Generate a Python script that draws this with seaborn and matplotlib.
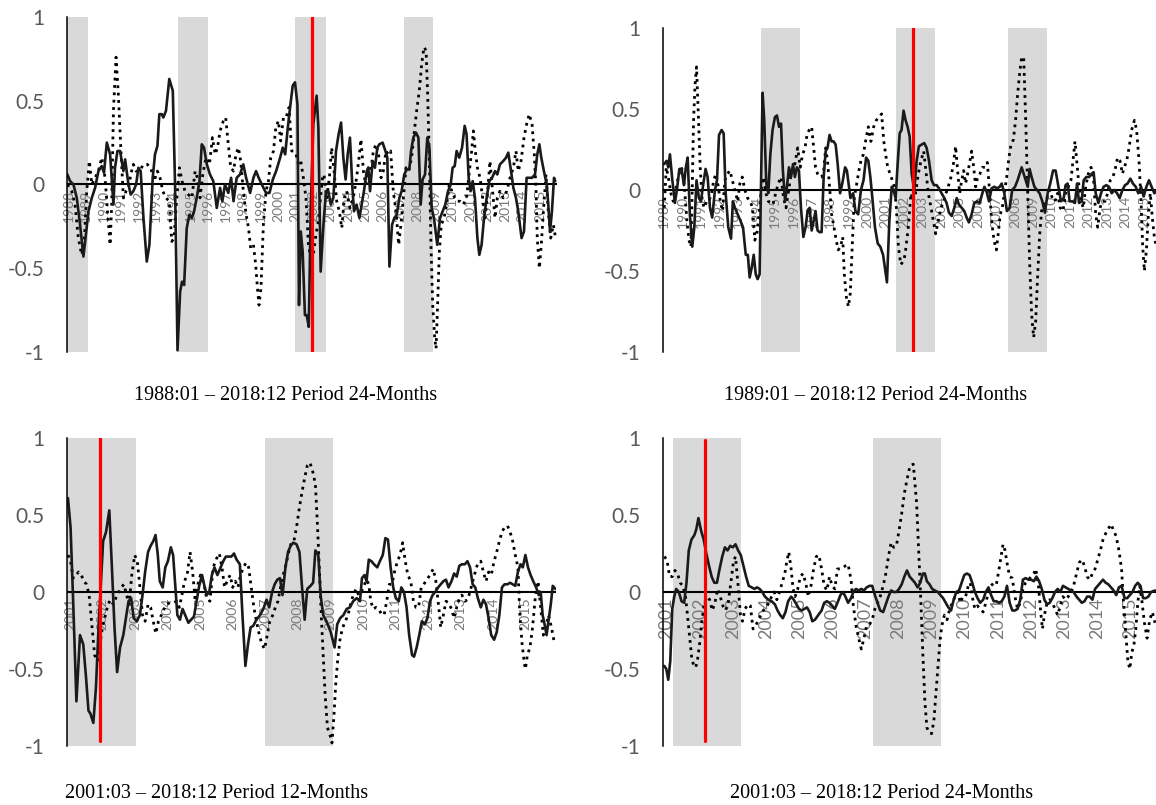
import numpy as np
import pandas as pd
import matplotlib
matplotlib.use("Agg")
import matplotlib.pyplot as plt
import seaborn as sns

sns.set_style("white")
plt.rcParams["font.family"] = ["Lato", "DejaVu Sans"]

# ---------------- data ----------------
titles = ["1988:01 \u2013 2018:12 Period 24-Months",
          "1989:01 \u2013 2018:12 Period 24-Months",
          "2001:03 \u2013 2018:12 Period 12-Months",
          "2001:03 \u2013 2018:12 Period 24-Months"]

year_labels_1 = list(range(1988, 2016))
year_labels_2 = list(range(1989, 2016))
year_labels_3 = list(range(2001, 2016))
year_labels_4 = list(range(2001, 2016))

shades_1 = [(1987.91, 1989.10), (1994.29, 1996.01), (2000.97, 2002.75), (2007.23, 2008.86)]
shades_2 = [(1994.24, 1996.36), (2001.56, 2003.67), (2007.65, 2009.74)]
shades_3 = [(2000.92, 2003.03), (2006.99, 2009.07)]
shades_4 = [(2001.20, 2003.24), (2007.24, 2009.28)]

red_lines = [2001.93, 2002.48, 2001.92, 2002.16]

p1_solid = [(1987.93,0.06),(1988.09,0.02),(1988.28,0.0),(1988.47,-0.08),(1988.66,-0.24),(1988.85,-0.43),(1988.95,-0.34),(1989.14,-0.16),(1989.33,-0.08),(1989.52,-0.02),(1989.71,0.08),(1989.90,0.11),(1990.03,0.07),(1990.19,0.25),(1990.38,0.18),(1990.57,-0.12),(1990.66,0.10),(1990.80,0.20),(1990.95,0.20),(1991.14,0.08),(1991.24,0.15),(1991.43,0.0),(1991.56,-0.06),(1991.71,-0.04),(1991.87,0.0),(1992.00,0.10),(1992.13,0.08),(1992.29,-0.20),(1992.48,-0.46),(1992.63,-0.36),(1992.82,0.04),(1992.95,0.18),(1993.09,0.23),(1993.20,0.42),(1993.34,0.42),(1993.43,0.40),(1993.58,0.44),(1993.77,0.63),(1993.97,0.56),(1994.10,0.0),(1994.24,-0.99),(1994.39,-0.64),(1994.50,-0.58),(1994.62,-0.60),(1994.77,-0.26),(1994.92,-0.18),(1995.06,-0.20),(1995.19,-0.16),(1995.34,-0.08),(1995.50,0.02),(1995.63,0.24),(1995.76,0.22),(1995.92,0.12),(1996.10,0.06),(1996.29,0.02),(1996.49,-0.14),(1996.68,-0.02),(1996.81,-0.10),(1996.96,0.0),(1997.15,-0.05),(1997.31,0.04),(1997.45,-0.10),(1997.63,0.04),(1997.82,0.06),(1998.01,0.12),(1998.17,0.04),(1998.40,-0.05),(1998.59,0.04),(1998.74,0.08),(1998.89,0.04),(1999.07,0.0),(1999.31,-0.05),(1999.51,-0.05),(1999.70,0.03),(1999.89,0.08),(2000.12,0.16),(2000.27,0.22),(2000.41,0.18),(2000.54,0.32),(2000.69,0.46),(2000.84,0.59),(2000.97,0.61),(2001.11,0.48),(2001.20,-0.72),(2001.30,-0.28),(2001.41,-0.40),(2001.54,-0.78),(2001.64,-0.78),(2001.76,-0.85),(2001.87,-0.16),(2002.02,0.36),(2002.21,0.53),(2002.31,0.34),(2002.44,-0.52),(2002.60,-0.24),(2002.75,-0.04),(2002.88,-0.04),(2003.02,-0.12),(2003.17,-0.08),(2003.32,0.20),(2003.47,0.30),(2003.61,0.37),(2003.74,0.16),(2003.87,0.03),(2003.99,0.18),(2004.12,0.28),(2004.26,-0.02),(2004.35,-0.16),(2004.50,-0.12),(2004.66,-0.20),(2004.79,-0.12),(2004.92,-0.04),(2005.08,0.08),(2005.17,0.10),(2005.27,-0.04),(2005.42,0.14),(2005.55,0.10),(2005.69,0.22),(2005.80,0.24),(2005.99,0.25),(2006.15,0.20),(2006.26,0.16),(2006.38,-0.49),(2006.53,-0.24),(2006.66,-0.20),(2006.80,-0.18),(2006.95,-0.08),(2007.08,-0.04),(2007.23,0.06),(2007.37,0.09),(2007.52,0.09),(2007.62,0.20),(2007.75,0.28),(2007.90,0.31),(2008.04,0.28),(2008.17,-0.12),(2008.28,0.03),(2008.42,0.06),(2008.55,0.28),(2008.67,0.22),(2008.80,-0.14),(2008.93,-0.20),(2009.12,-0.36),(2009.28,-0.20),(2009.43,-0.16),(2009.58,-0.12),(2009.74,-0.04),(2009.89,0.0),(2010.00,0.10),(2010.12,0.11),(2010.23,0.20),(2010.38,0.16),(2010.54,0.22),(2010.69,0.35),(2010.80,0.30),(2010.92,0.04),(2011.03,-0.04),(2011.15,0.02),(2011.28,-0.08),(2011.42,-0.32),(2011.53,-0.42),(2011.66,-0.36),(2011.80,-0.20),(2011.95,-0.08),(2012.10,0.02),(2012.26,0.04),(2012.43,0.08),(2012.56,0.06),(2012.71,0.12),(2012.90,0.14),(2013.06,0.16),(2013.19,0.19),(2013.32,0.10),(2013.48,-0.02),(2013.63,-0.08),(2013.76,-0.16),(2013.95,-0.32),(2014.09,-0.28),(2014.24,0.04),(2014.39,0.04),(2014.55,0.04),(2014.72,0.06),(2014.85,0.18),(2014.97,0.24),(2015.08,0.16),(2015.23,0.08),(2015.39,0.0),(2015.48,-0.12),(2015.58,-0.28),(2015.69,-0.16),(2015.81,0.04),(2015.88,0.02)]

p1_dotted = [(1987.93,0.0),(1988.18,-0.04),(1988.37,-0.12),(1988.56,-0.32),(1988.75,-0.42),(1988.89,-0.36),(1989.04,-0.04),(1989.19,0.14),(1989.33,0.0),(1989.52,0.04),(1989.71,0.08),(1989.90,0.16),(1990.09,0.04),(1990.23,-0.16),(1990.38,-0.36),(1990.47,-0.12),(1990.57,0.44),(1990.72,0.76),(1990.85,0.54),(1990.99,0.22),(1991.14,-0.08),(1991.29,-0.04),(1991.43,-0.02),(1991.56,0.06),(1991.71,0.12),(1991.87,0.08),(1992.06,0.08),(1992.29,0.12),(1992.51,0.12),(1992.71,0.10),(1992.90,0.02),(1993.09,0.08),(1993.24,0.04),(1993.40,-0.04),(1993.58,-0.08),(1993.77,-0.10),(1993.91,-0.34),(1994.04,-0.32),(1994.20,-0.08),(1994.35,0.10),(1994.50,0.02),(1994.67,-0.04),(1994.86,-0.06),(1995.06,-0.08),(1995.25,0.08),(1995.38,0.04),(1995.53,-0.08),(1995.69,0.06),(1995.87,0.16),(1996.07,0.12),(1996.24,0.28),(1996.40,0.18),(1996.53,0.22),(1996.68,0.32),(1996.87,0.38),(1997.00,0.40),(1997.15,0.24),(1997.29,0.10),(1997.45,0.08),(1997.59,0.18),(1997.73,0.22),(1997.86,0.14),(1998.01,-0.04),(1998.17,-0.18),(1998.31,-0.26),(1998.43,-0.38),(1998.59,-0.36),(1998.72,-0.48),(1998.82,-0.62),(1998.91,-0.72),(1999.02,-0.62),(1999.16,-0.24),(1999.31,-0.04),(1999.45,0.02),(1999.58,0.16),(1999.74,0.20),(1999.87,0.34),(2000.02,0.38),(2000.15,0.26),(2000.31,0.40),(2000.46,0.40),(2000.63,0.46),(2000.78,0.20),(2000.88,0.20),(2001.03,0.18),(2001.17,0.12),(2001.30,0.14),(2001.45,0.04),(2001.60,-0.08),(2001.74,-0.36),(2001.87,-0.44),(2002.02,-0.42),(2002.17,-0.30),(2002.31,-0.22),(2002.45,-0.06),(2002.55,0.04),(2002.63,0.06),(2002.79,-0.08),(2002.94,0.04),(2003.07,0.22),(2003.21,0.08),(2003.36,-0.10),(2003.51,-0.16),(2003.65,-0.26),(2003.80,-0.08),(2003.93,-0.04),(2004.12,-0.14),(2004.31,-0.08),(2004.50,0.04),(2004.64,0.16),(2004.75,0.27),(2004.89,0.08),(2005.02,0.0),(2005.17,0.10),(2005.31,0.08),(2005.46,0.20),(2005.61,0.24),(2005.76,0.18),(2005.90,0.04),(2006.03,0.08),(2006.18,0.20),(2006.32,0.18),(2006.45,0.20),(2006.60,-0.04),(2006.76,-0.16),(2006.91,-0.36),(2007.04,-0.24),(2007.18,-0.08),(2007.33,0.10),(2007.48,0.08),(2007.65,0.16),(2007.81,0.32),(2007.94,0.44),(2008.09,0.56),(2008.23,0.72),(2008.36,0.82),(2008.48,0.80),(2008.57,0.54),(2008.67,0.14),(2008.76,-0.36),(2008.86,-0.72),(2008.97,-0.91),(2009.05,-0.98),(2009.14,-0.72),(2009.24,-0.40),(2009.35,-0.24),(2009.51,-0.20),(2009.66,-0.12),(2009.81,0.0),(2009.96,-0.04),(2010.12,-0.08),(2010.27,-0.10),(2010.42,-0.10),(2010.61,-0.12),(2010.80,-0.08),(2010.96,0.08),(2011.09,0.20),(2011.19,0.32),(2011.30,0.20),(2011.42,0.10),(2011.57,0.04),(2011.72,-0.08),(2011.86,-0.20),(2012.01,-0.04),(2012.14,0.14),(2012.29,-0.04),(2012.43,-0.20),(2012.56,-0.08),(2012.71,-0.04),(2012.90,-0.08),(2013.10,-0.04),(2013.29,0.04),(2013.48,0.10),(2013.63,0.20),(2013.76,0.08),(2013.92,0.14),(2014.09,0.28),(2014.24,0.36),(2014.39,0.42),(2014.55,0.36),(2014.68,0.18),(2014.78,-0.04),(2014.85,-0.32),(2014.97,-0.50),(2015.08,-0.36),(2015.20,-0.16),(2015.35,0.06),(2015.48,-0.16),(2015.62,-0.32),(2015.77,-0.24),(2015.90,-0.32)]

p2_solid = [(1989.00,0.16),(1989.13,0.18),(1989.22,0.14),(1989.31,0.22),(1989.44,0.06),(1989.58,-0.08),(1989.71,0.02),(1989.82,0.13),(1989.94,0.13),(1990.07,0.03),(1990.16,0.13),(1990.27,0.20),(1990.39,-0.15),(1990.52,-0.35),(1990.63,-0.23),(1990.75,0.06),(1990.88,-0.05),(1990.99,-0.07),(1991.12,0.04),(1991.24,0.13),(1991.35,0.08),(1991.48,-0.11),(1991.60,-0.17),(1991.75,0.0),(1991.86,0.06),(1991.97,0.34),(1992.11,0.37),(1992.22,0.35),(1992.33,-0.02),(1992.47,-0.23),(1992.62,-0.30),(1992.72,-0.07),(1992.83,-0.11),(1992.98,-0.15),(1993.13,-0.19),(1993.27,-0.23),(1993.42,-0.40),(1993.53,-0.40),(1993.63,-0.54),(1993.74,-0.48),(1993.85,-0.40),(1993.96,-0.52),(1994.06,-0.55),(1994.17,-0.52),(1994.24,0.0),(1994.33,0.60),(1994.42,0.43),(1994.53,0.04),(1994.64,-0.02),(1994.75,0.22),(1994.87,0.37),(1995.00,0.45),(1995.11,0.46),(1995.22,0.39),(1995.33,0.41),(1995.43,0.12),(1995.55,-0.07),(1995.65,0.02),(1995.76,0.14),(1995.87,0.08),(1995.98,0.16),(1996.08,0.08),(1996.19,0.14),(1996.30,0.12),(1996.41,-0.11),(1996.54,-0.29),(1996.66,-0.23),(1996.77,-0.13),(1996.88,-0.11),(1996.99,-0.25),(1997.10,-0.19),(1997.20,-0.13),(1997.31,-0.25),(1997.42,-0.26),(1997.53,-0.26),(1997.64,0.08),(1997.75,0.24),(1997.85,0.26),(1997.96,0.34),(1998.07,0.30),(1998.18,0.30),(1998.29,0.28),(1998.40,0.16),(1998.53,-0.02),(1998.65,0.04),(1998.80,0.14),(1998.90,0.12),(1999.01,0.02),(1999.09,-0.05),(1999.24,-0.02),(1999.36,-0.13),(1999.51,-0.15),(1999.66,0.0),(1999.80,0.06),(1999.94,0.20),(2000.06,0.18),(2000.17,0.08),(2000.28,-0.05),(2000.42,-0.23),(2000.57,-0.33),(2000.71,-0.35),(2000.86,-0.40),(2000.96,-0.48),(2001.07,-0.57),(2001.20,-0.19),(2001.33,0.02),(2001.43,0.0),(2001.54,-0.05),(2001.65,0.16),(2001.76,0.35),(2001.86,0.37),(2001.97,0.49),(2002.08,0.43),(2002.19,0.39),(2002.30,0.33),(2002.41,0.10),(2002.55,0.0),(2002.68,0.18),(2002.80,0.27),(2002.95,0.28),(2003.09,0.29),(2003.22,0.26),(2003.35,0.18),(2003.49,0.06),(2003.62,0.03),(2003.76,0.03),(2003.89,0.01),(2004.03,-0.02),(2004.18,-0.05),(2004.30,-0.08),(2004.43,-0.14),(2004.58,-0.16),(2004.72,-0.11),(2004.85,-0.05),(2004.97,-0.09),(2005.12,-0.11),(2005.26,-0.13),(2005.39,-0.17),(2005.51,-0.20),(2005.66,-0.15),(2005.80,-0.08),(2005.95,-0.07),(2006.09,-0.08),(2006.24,-0.02),(2006.35,0.02),(2006.47,-0.01),(2006.60,-0.07),(2006.74,0.01),(2006.89,0.02),(2007.03,0.01),(2007.18,0.02),(2007.29,0.04),(2007.43,-0.02),(2007.57,-0.13),(2007.72,-0.11),(2007.86,0.0),(2008.01,0.02),(2008.15,0.06),(2008.26,0.10),(2008.37,0.14),(2008.48,0.10),(2008.59,0.06),(2008.70,0.02),(2008.80,0.13),(2008.91,0.08),(2009.06,0.02),(2009.20,0.0),(2009.34,-0.02),(2009.49,-0.07),(2009.63,-0.14),(2009.78,-0.02),(2009.92,0.04),(2010.07,0.12),(2010.21,0.12),(2010.36,0.02),(2010.50,-0.07),(2010.65,-0.05),(2010.75,0.03),(2010.86,0.04),(2010.97,-0.07),(2011.12,-0.07),(2011.26,-0.08),(2011.37,0.04),(2011.48,-0.08),(2011.62,-0.07),(2011.73,0.06),(2011.87,0.08),(2012.02,0.08),(2012.16,0.10),(2012.27,0.11),(2012.38,-0.02),(2012.53,-0.08),(2012.67,-0.02),(2012.81,0.02),(2012.96,0.03),(2013.10,0.02),(2013.25,-0.02),(2013.39,0.0),(2013.54,-0.02),(2013.68,-0.05),(2013.83,0.0),(2013.97,0.03),(2014.11,0.04),(2014.26,0.07),(2014.40,0.04),(2014.55,0.02),(2014.69,-0.02),(2014.84,0.02),(2014.98,-0.04),(2015.13,0.02),(2015.27,0.06),(2015.41,0.02),(2015.56,-0.02),(2015.65,-0.01)]

p2_dotted = [(1989.00,-0.11),(1989.11,0.14),(1989.22,0.08),(1989.36,-0.02),(1989.49,-0.07),(1989.62,0.0),(1989.76,0.08),(1989.91,0.14),(1990.01,0.12),(1990.12,-0.02),(1990.23,-0.19),(1990.34,-0.31),(1990.45,-0.35),(1990.52,0.02),(1990.59,0.43),(1990.67,0.65),(1990.75,0.76),(1990.84,0.49),(1990.95,0.14),(1991.06,-0.07),(1991.17,-0.11),(1991.30,-0.07),(1991.42,-0.07),(1991.57,-0.02),(1991.68,0.06),(1991.80,0.10),(1991.93,0.02),(1992.04,-0.07),(1992.16,-0.13),(1992.29,0.06),(1992.43,0.10),(1992.56,0.12),(1992.69,0.06),(1992.83,0.0),(1992.98,-0.07),(1993.10,0.04),(1993.23,0.08),(1993.37,0.0),(1993.52,-0.05),(1993.66,-0.07),(1993.79,-0.11),(1993.91,-0.31),(1994.02,-0.27),(1994.14,-0.15),(1994.24,-0.02),(1994.38,0.08),(1994.51,-0.02),(1994.64,-0.07),(1994.77,-0.08),(1994.89,-0.09),(1995.04,-0.02),(1995.18,0.04),(1995.33,0.08),(1995.47,-0.05),(1995.60,-0.11),(1995.72,-0.02),(1995.85,0.08),(1995.98,0.14),(1996.08,0.16),(1996.23,0.26),(1996.37,0.14),(1996.50,0.22),(1996.63,0.26),(1996.75,0.35),(1996.86,0.37),(1996.99,0.39),(1997.10,0.26),(1997.20,0.14),(1997.31,0.10),(1997.42,0.08),(1997.53,0.08),(1997.64,0.12),(1997.75,0.26),(1997.85,0.18),(1997.96,0.02),(1998.07,-0.15),(1998.20,-0.23),(1998.32,-0.31),(1998.43,-0.37),(1998.56,-0.35),(1998.67,-0.29),(1998.76,-0.52),(1998.87,-0.66),(1998.98,-0.72),(1999.08,-0.64),(1999.19,-0.35),(1999.30,-0.05),(1999.43,0.04),(1999.55,0.12),(1999.66,0.18),(1999.79,0.22),(1999.91,0.30),(2000.06,0.39),(2000.20,0.30),(2000.35,0.39),(2000.49,0.43),(2000.64,0.45),(2000.78,0.47),(2000.90,0.30),(2001.00,0.22),(2001.11,0.14),(2001.24,0.10),(2001.36,0.06),(2001.47,0.02),(2001.58,-0.11),(2001.69,-0.35),(2001.82,-0.46),(2001.96,-0.44),(2002.05,-0.40),(2002.23,-0.23),(2002.37,-0.02),(2002.50,-0.07),(2002.62,-0.02),(2002.77,0.10),(2002.91,0.18),(2003.06,0.24),(2003.18,0.12),(2003.31,-0.02),(2003.46,-0.11),(2003.58,-0.19),(2003.71,-0.27),(2003.85,-0.19),(2004.00,-0.11),(2004.14,-0.07),(2004.27,-0.02),(2004.39,0.02),(2004.54,0.08),(2004.67,0.16),(2004.79,0.27),(2004.90,0.12),(2005.01,-0.02),(2005.12,0.06),(2005.23,0.12),(2005.33,0.04),(2005.44,0.10),(2005.57,0.18),(2005.66,0.24),(2005.77,0.14),(2005.88,0.02),(2005.98,0.08),(2006.11,0.10),(2006.24,0.14),(2006.38,0.14),(2006.51,0.17),(2006.64,-0.02),(2006.74,-0.19),(2006.87,-0.31),(2007.00,-0.37),(2007.10,-0.27),(2007.21,-0.15),(2007.32,-0.11),(2007.43,-0.02),(2007.56,0.08),(2007.68,0.20),(2007.79,0.28),(2007.92,0.31),(2008.04,0.43),(2008.15,0.59),(2008.26,0.72),(2008.37,0.82),(2008.48,0.82),(2008.59,0.43),(2008.70,-0.02),(2008.80,-0.44),(2008.91,-0.77),(2009.02,-0.91),(2009.13,-0.81),(2009.24,-0.52),(2009.35,-0.27),(2009.45,-0.13),(2009.60,-0.07),(2009.74,-0.05),(2009.89,0.0),(2010.03,-0.05),(2010.18,-0.07),(2010.32,-0.02),(2010.46,-0.11),(2010.61,-0.13),(2010.75,-0.02),(2010.90,0.02),(2011.04,0.06),(2011.15,0.18),(2011.26,0.30),(2011.37,0.16),(2011.48,0.02),(2011.59,-0.07),(2011.71,-0.11),(2011.84,0.02),(2011.98,0.10),(2012.13,0.14),(2012.27,0.06),(2012.38,-0.15),(2012.49,-0.23),(2012.62,-0.11),(2012.74,-0.07),(2012.89,-0.07),(2013.03,-0.02),(2013.17,0.06),(2013.32,0.08),(2013.46,0.14),(2013.57,0.20),(2013.70,0.18),(2013.83,0.10),(2013.93,0.14),(2014.06,0.18),(2014.19,0.26),(2014.33,0.37),(2014.48,0.43),(2014.60,0.37),(2014.73,0.18),(2014.84,-0.07),(2014.93,-0.35),(2015.02,-0.50),(2015.13,-0.37),(2015.23,-0.17),(2015.34,-0.02),(2015.45,-0.17),(2015.56,-0.29),(2015.67,-0.35)]

p3_solid = [(2000.94,0.61),(2001.02,0.42),(2001.10,-0.06),(2001.20,-0.71),(2001.31,-0.28),(2001.41,-0.34),(2001.49,-0.54),(2001.57,-0.77),(2001.63,-0.79),(2001.72,-0.85),(2001.80,-0.62),(2001.88,-0.23),(2001.96,0.09),(2002.02,0.33),(2002.11,0.39),(2002.21,0.53),(2002.29,0.16),(2002.37,-0.23),(2002.45,-0.52),(2002.54,-0.36),(2002.64,-0.28),(2002.72,-0.17),(2002.80,-0.06),(2002.88,-0.04),(2002.96,-0.17),(2003.05,-0.19),(2003.15,-0.15),(2003.23,-0.02),(2003.31,0.13),(2003.40,0.26),(2003.48,0.30),(2003.56,0.33),(2003.63,0.37),(2003.70,0.24),(2003.76,0.07),(2003.85,0.03),(2003.93,0.16),(2004.01,0.20),(2004.10,0.29),(2004.17,0.24),(2004.24,0.03),(2004.30,-0.15),(2004.38,-0.18),(2004.46,-0.11),(2004.54,-0.15),(2004.64,-0.20),(2004.72,-0.18),(2004.81,-0.16),(2004.89,-0.06),(2004.97,0.04),(2005.06,0.11),(2005.12,0.05),(2005.20,-0.02),(2005.28,0.0),(2005.36,0.11),(2005.44,0.16),(2005.53,0.11),(2005.61,0.15),(2005.71,0.20),(2005.79,0.23),(2005.87,0.23),(2005.96,0.23),(2006.04,0.25),(2006.12,0.21),(2006.22,0.18),(2006.30,-0.15),(2006.39,-0.48),(2006.47,-0.34),(2006.55,-0.23),(2006.63,-0.22),(2006.73,-0.18),(2006.84,-0.15),(2006.94,-0.11),(2007.04,-0.05),(2007.12,-0.10),(2007.21,0.0),(2007.29,0.05),(2007.37,0.08),(2007.45,0.09),(2007.53,-0.02),(2007.62,0.16),(2007.70,0.26),(2007.78,0.30),(2007.86,0.32),(2007.96,0.31),(2008.05,0.26),(2008.13,0.03),(2008.21,-0.18),(2008.29,0.02),(2008.39,0.04),(2008.47,0.06),(2008.54,0.27),(2008.63,0.24),(2008.70,-0.02),(2008.78,-0.15),(2008.88,-0.19),(2009.01,-0.26),(2009.13,-0.36),(2009.21,-0.21),(2009.30,-0.17),(2009.40,-0.15),(2009.50,-0.11),(2009.60,-0.10),(2009.70,-0.06),(2009.81,-0.04),(2009.91,-0.06),(2009.97,0.09),(2010.05,0.11),(2010.11,0.07),(2010.18,0.21),(2010.26,0.20),(2010.34,0.18),(2010.44,0.16),(2010.52,0.20),(2010.61,0.24),(2010.69,0.35),(2010.77,0.34),(2010.85,0.16),(2010.93,0.03),(2011.01,-0.04),(2011.10,-0.06),(2011.18,0.03),(2011.26,0.0),(2011.34,-0.10),(2011.42,-0.28),(2011.51,-0.41),(2011.57,-0.42),(2011.65,-0.36),(2011.73,-0.28),(2011.81,-0.19),(2011.90,-0.21),(2011.98,-0.17),(2012.06,-0.06),(2012.14,-0.02),(2012.22,0.0),(2012.31,0.03),(2012.39,0.05),(2012.47,0.07),(2012.55,0.08),(2012.63,0.03),(2012.72,0.07),(2012.80,0.12),(2012.88,0.10),(2012.96,0.17),(2013.04,0.18),(2013.13,0.18),(2013.21,0.20),(2013.29,0.16),(2013.37,0.05),(2013.45,0.03),(2013.53,-0.04),(2013.62,-0.10),(2013.70,-0.05),(2013.78,-0.08),(2013.86,-0.17),(2013.94,-0.28),(2014.03,-0.31),(2014.11,-0.26),(2014.19,-0.15),(2014.27,0.03),(2014.35,0.05),(2014.44,0.05),(2014.52,0.06),(2014.60,0.05),(2014.68,0.04),(2014.76,0.13),(2014.84,0.18),(2014.91,0.16),(2014.99,0.24),(2015.07,0.16),(2015.15,0.11),(2015.23,0.07),(2015.32,0.03),(2015.40,-0.02),(2015.46,0.0),(2015.52,-0.15),(2015.58,-0.21),(2015.64,-0.28),(2015.70,-0.19),(2015.77,-0.08),(2015.83,0.04),(2015.91,0.02)]

p3_dotted = [(2000.94,0.24),(2001.02,0.20),(2001.10,0.09),(2001.18,0.11),(2001.27,0.13),(2001.35,0.11),(2001.43,0.07),(2001.51,0.05),(2001.59,-0.02),(2001.68,-0.23),(2001.76,-0.41),(2001.84,-0.45),(2001.92,-0.34),(2002.00,-0.23),(2002.09,-0.15),(2002.17,-0.08),(2002.25,-0.05),(2002.33,-0.08),(2002.41,-0.04),(2002.50,0.0),(2002.58,0.03),(2002.66,0.05),(2002.74,-0.02),(2002.82,-0.08),(2002.90,0.11),(2002.99,0.24),(2003.07,0.20),(2003.15,0.03),(2003.23,-0.15),(2003.31,-0.19),(2003.40,-0.08),(2003.48,-0.10),(2003.56,-0.19),(2003.64,-0.27),(2003.72,-0.19),(2003.81,-0.15),(2003.89,-0.11),(2003.97,-0.08),(2004.07,-0.07),(2004.17,-0.07),(2004.28,-0.06),(2004.36,-0.10),(2004.44,-0.02),(2004.52,0.07),(2004.60,0.11),(2004.69,0.26),(2004.77,0.13),(2004.85,-0.06),(2004.93,0.05),(2005.01,0.11),(2005.12,0.05),(2005.20,-0.04),(2005.30,-0.06),(2005.40,0.16),(2005.51,0.22),(2005.59,0.25),(2005.67,0.16),(2005.75,0.03),(2005.83,0.07),(2005.92,0.11),(2006.00,0.03),(2006.08,0.07),(2006.16,0.03),(2006.24,0.11),(2006.33,0.16),(2006.41,0.19),(2006.49,0.16),(2006.57,0.03),(2006.65,-0.10),(2006.73,-0.19),(2006.82,-0.28),(2006.90,-0.34),(2006.98,-0.37),(2007.06,-0.28),(2007.14,-0.19),(2007.23,-0.15),(2007.31,-0.10),(2007.39,-0.06),(2007.47,0.03),(2007.55,0.11),(2007.64,0.18),(2007.72,0.26),(2007.80,0.32),(2007.88,0.33),(2007.96,0.42),(2008.05,0.55),(2008.13,0.65),(2008.21,0.74),(2008.29,0.82),(2008.37,0.84),(2008.45,0.79),(2008.54,0.70),(2008.60,0.45),(2008.66,0.16),(2008.72,-0.15),(2008.78,-0.41),(2008.84,-0.67),(2008.91,-0.88),(2008.99,-0.93),(2009.05,-0.98),(2009.11,-0.80),(2009.17,-0.58),(2009.23,-0.43),(2009.30,-0.30),(2009.38,-0.23),(2009.46,-0.19),(2009.54,-0.15),(2009.62,-0.08),(2009.70,-0.02),(2009.79,0.02),(2009.87,-0.02),(2009.95,0.0),(2010.03,0.04),(2010.11,0.08),(2010.18,0.05),(2010.24,-0.06),(2010.32,-0.11),(2010.40,-0.10),(2010.48,-0.11),(2010.56,-0.14),(2010.65,-0.15),(2010.73,-0.06),(2010.81,0.05),(2010.89,0.05),(2010.97,0.13),(2011.06,0.20),(2011.14,0.24),(2011.22,0.32),(2011.30,0.20),(2011.38,0.11),(2011.47,0.07),(2011.55,-0.06),(2011.63,-0.10),(2011.71,-0.10),(2011.79,0.03),(2011.87,0.05),(2011.96,0.08),(2012.06,0.11),(2012.16,0.15),(2012.24,0.07),(2012.33,-0.10),(2012.39,-0.23),(2012.47,-0.15),(2012.55,-0.06),(2012.63,-0.07),(2012.72,-0.11),(2012.80,-0.17),(2012.88,-0.10),(2012.96,-0.04),(2013.04,-0.02),(2013.13,-0.06),(2013.21,-0.05),(2013.29,0.0),(2013.37,0.07),(2013.45,0.13),(2013.53,0.19),(2013.62,0.20),(2013.70,0.13),(2013.78,0.07),(2013.86,0.13),(2013.94,0.11),(2014.03,0.20),(2014.11,0.26),(2014.19,0.33),(2014.27,0.39),(2014.35,0.42),(2014.44,0.43),(2014.52,0.39),(2014.60,0.33),(2014.68,0.24),(2014.76,0.16),(2014.82,-0.15),(2014.89,-0.34),(2014.95,-0.45),(2014.99,-0.50),(2015.05,-0.41),(2015.13,-0.36),(2015.21,-0.23),(2015.30,-0.02),(2015.38,0.07),(2015.46,-0.10),(2015.54,-0.28),(2015.62,-0.23),(2015.70,-0.15),(2015.79,-0.23),(2015.87,-0.32)]

p4_solid = [(2000.93,-0.48),(2000.99,-0.50),(2001.05,-0.57),(2001.11,-0.45),(2001.17,-0.11),(2001.23,-0.03),(2001.29,0.02),(2001.37,0.0),(2001.45,-0.06),(2001.53,-0.07),(2001.60,0.06),(2001.67,0.27),(2001.75,0.34),(2001.84,0.37),(2001.90,0.41),(2001.96,0.48),(2002.04,0.40),(2002.12,0.34),(2002.20,0.25),(2002.28,0.17),(2002.36,0.10),(2002.44,0.06),(2002.52,0.06),(2002.60,0.15),(2002.68,0.23),(2002.76,0.29),(2002.84,0.27),(2002.92,0.30),(2003.00,0.29),(2003.08,0.31),(2003.16,0.27),(2003.24,0.24),(2003.32,0.17),(2003.40,0.10),(2003.48,0.04),(2003.57,0.03),(2003.65,0.02),(2003.73,0.03),(2003.81,0.02),(2003.89,0.0),(2003.97,-0.03),(2004.07,-0.05),(2004.17,-0.06),(2004.27,-0.08),(2004.35,-0.12),(2004.43,-0.15),(2004.51,-0.17),(2004.59,-0.13),(2004.67,-0.06),(2004.76,-0.03),(2004.84,-0.05),(2004.92,-0.08),(2005.00,-0.11),(2005.08,-0.12),(2005.16,-0.11),(2005.24,-0.10),(2005.32,-0.13),(2005.40,-0.19),(2005.48,-0.18),(2005.58,-0.15),(2005.68,-0.12),(2005.76,-0.07),(2005.84,-0.06),(2005.92,-0.07),(2006.00,-0.09),(2006.08,-0.11),(2006.16,-0.07),(2006.25,-0.02),(2006.33,0.0),(2006.40,-0.03),(2006.48,-0.07),(2006.57,-0.04),(2006.64,0.0),(2006.72,0.02),(2006.80,0.01),(2006.88,0.02),(2006.96,0.01),(2007.04,0.03),(2007.13,0.04),(2007.21,0.04),(2007.29,-0.02),(2007.37,-0.07),(2007.45,-0.12),(2007.54,-0.13),(2007.62,-0.08),(2007.70,-0.03),(2007.78,0.01),(2007.86,0.0),(2007.94,0.0),(2008.02,0.02),(2008.10,0.05),(2008.18,0.10),(2008.26,0.14),(2008.34,0.10),(2008.42,0.08),(2008.50,0.06),(2008.58,0.03),(2008.66,0.06),(2008.74,0.12),(2008.80,0.12),(2008.86,0.07),(2008.94,0.05),(2009.02,0.02),(2009.10,0.01),(2009.19,0.0),(2009.27,-0.02),(2009.35,-0.04),(2009.43,-0.07),(2009.51,-0.10),(2009.59,-0.12),(2009.67,-0.05),(2009.75,0.0),(2009.83,0.01),(2009.91,0.06),(2009.99,0.11),(2010.07,0.12),(2010.15,0.11),(2010.23,0.06),(2010.31,0.0),(2010.39,-0.04),(2010.47,-0.07),(2010.56,-0.05),(2010.64,0.0),(2010.72,0.03),(2010.80,-0.02),(2010.88,-0.06),(2010.96,-0.06),(2011.04,-0.07),(2011.12,-0.06),(2011.20,-0.03),(2011.28,0.04),(2011.36,-0.07),(2011.44,-0.12),(2011.52,-0.12),(2011.60,-0.11),(2011.68,-0.05),(2011.76,0.08),(2011.84,0.09),(2011.93,0.08),(2012.01,0.08),(2012.09,0.07),(2012.17,0.10),(2012.25,0.07),(2012.33,0.02),(2012.41,-0.05),(2012.49,-0.08),(2012.57,-0.07),(2012.65,-0.04),(2012.73,0.0),(2012.81,0.02),(2012.89,0.0),(2012.97,0.04),(2013.05,0.03),(2013.13,0.02),(2013.21,0.01),(2013.29,0.0),(2013.38,-0.03),(2013.46,-0.05),(2013.54,-0.07),(2013.62,-0.06),(2013.70,-0.03),(2013.78,-0.03),(2013.86,-0.05),(2013.94,0.02),(2014.02,0.04),(2014.10,0.06),(2014.18,0.08),(2014.26,0.06),(2014.34,0.05),(2014.42,0.03),(2014.50,0.01),(2014.58,-0.02),(2014.66,0.03),(2014.74,0.04),(2014.83,-0.04),(2014.91,-0.04),(2014.99,-0.02),(2015.07,0.0),(2015.15,0.04),(2015.23,0.06),(2015.31,0.04),(2015.39,-0.04),(2015.47,-0.04),(2015.55,-0.03),(2015.63,0.0),(2015.75,0.01)]

p4_dotted = [(2000.93,0.23),(2001.01,0.21),(2001.09,0.10),(2001.17,0.10),(2001.25,0.14),(2001.33,0.12),(2001.41,0.06),(2001.49,0.04),(2001.57,-0.03),(2001.63,-0.15),(2001.70,-0.30),(2001.76,-0.43),(2001.82,-0.48),(2001.88,-0.49),(2001.94,-0.43),(2002.00,-0.33),(2002.06,-0.20),(2002.14,-0.07),(2002.22,-0.03),(2002.30,-0.05),(2002.38,-0.12),(2002.46,-0.07),(2002.54,0.02),(2002.62,-0.03),(2002.70,-0.09),(2002.78,-0.12),(2002.86,-0.07),(2002.94,0.06),(2003.02,0.20),(2003.08,0.23),(2003.16,0.04),(2003.23,-0.15),(2003.29,-0.19),(2003.37,-0.11),(2003.45,-0.08),(2003.53,-0.09),(2003.61,-0.24),(2003.69,-0.22),(2003.77,-0.18),(2003.85,-0.15),(2003.92,-0.12),(2004.00,-0.10),(2004.09,-0.07),(2004.17,-0.03),(2004.25,0.0),(2004.33,-0.05),(2004.41,0.0),(2004.49,0.06),(2004.57,0.12),(2004.63,0.20),(2004.69,0.26),(2004.76,0.15),(2004.82,0.02),(2004.88,-0.03),(2004.96,0.02),(2005.04,0.10),(2005.12,0.12),(2005.20,0.06),(2005.28,-0.03),(2005.36,0.04),(2005.44,0.15),(2005.52,0.23),(2005.60,0.24),(2005.68,0.15),(2005.76,0.04),(2005.84,0.01),(2005.92,0.10),(2006.00,0.04),(2006.08,0.02),(2006.16,0.15),(2006.25,0.15),(2006.33,0.16),(2006.40,0.17),(2006.48,0.18),(2006.57,0.08),(2006.64,-0.09),(2006.72,-0.22),(2006.80,-0.30),(2006.88,-0.37),(2006.96,-0.30),(2007.04,-0.22),(2007.13,-0.21),(2007.21,-0.18),(2007.29,-0.11),(2007.37,-0.07),(2007.45,-0.03),(2007.54,0.04),(2007.62,0.12),(2007.70,0.23),(2007.78,0.32),(2007.86,0.29),(2007.94,0.30),(2008.02,0.40),(2008.10,0.51),(2008.18,0.64),(2008.26,0.73),(2008.35,0.82),(2008.45,0.83),(2008.55,0.58),(2008.62,0.23),(2008.68,-0.07),(2008.74,-0.41),(2008.80,-0.71),(2008.86,-0.88),(2008.92,-0.91),(2009.00,-0.92),(2009.07,-0.84),(2009.13,-0.67),(2009.19,-0.50),(2009.25,-0.33),(2009.31,-0.22),(2009.39,-0.15),(2009.47,-0.18),(2009.55,-0.11),(2009.63,-0.07),(2009.71,-0.03),(2009.79,0.0),(2009.87,-0.07),(2009.95,-0.03),(2010.03,-0.03),(2010.11,0.04),(2010.17,0.06),(2010.23,-0.03),(2010.31,-0.11),(2010.39,-0.09),(2010.47,-0.11),(2010.56,-0.13),(2010.64,-0.07),(2010.72,0.0),(2010.80,0.04),(2010.88,0.06),(2010.96,0.05),(2011.04,0.15),(2011.10,0.23),(2011.16,0.31),(2011.22,0.27),(2011.28,0.19),(2011.36,0.10),(2011.44,0.09),(2011.52,-0.03),(2011.60,-0.11),(2011.68,-0.07),(2011.76,0.02),(2011.84,0.06),(2011.93,0.08),(2012.01,0.10),(2012.09,0.12),(2012.15,0.15),(2012.23,0.04),(2012.29,-0.11),(2012.35,-0.24),(2012.41,-0.15),(2012.49,-0.07),(2012.57,-0.05),(2012.65,-0.07),(2012.73,-0.11),(2012.81,-0.15),(2012.89,-0.09),(2012.97,-0.03),(2013.05,-0.05),(2013.13,-0.03),(2013.21,0.0),(2013.29,0.04),(2013.38,0.12),(2013.46,0.19),(2013.54,0.21),(2013.62,0.17),(2013.70,0.10),(2013.78,0.08),(2013.86,0.12),(2013.94,0.15),(2014.02,0.21),(2014.10,0.27),(2014.18,0.34),(2014.26,0.38),(2014.34,0.41),(2014.42,0.44),(2014.50,0.40),(2014.58,0.36),(2014.66,0.27),(2014.74,0.15),(2014.80,-0.07),(2014.87,-0.28),(2014.93,-0.45),(2014.99,-0.50),(2015.05,-0.39),(2015.11,-0.35),(2015.17,-0.24),(2015.23,-0.07),(2015.29,0.04),(2015.35,-0.05),(2015.43,-0.20),(2015.51,-0.30),(2015.59,-0.18),(2015.67,-0.13),(2015.75,-0.20)]

# ---------------- layout ----------------
W, H = 1156, 805
fig = plt.figure(figsize=(W / 100, H / 100), dpi=100)

def rect(x0, x1, ytop, ybot):
    return [x0 / W, 1 - ybot / H, (x1 - x0) / W, (ybot - ytop) / H]

panels = [
    dict(rect=rect(67, 557, 17, 352), xlim=(1987.91, 2015.98), solid=p1_solid, dotted=p1_dotted,
         years=year_labels_1, shades=shades_1, red=red_lines[0], red_span=(-1, 1), yfs=10,
         title=titles[0], tpos=(286, 395)),
    dict(rect=rect(663.3, 1156, 28, 352), xlim=(1988.95, 2015.65), solid=p2_solid, dotted=p2_dotted,
         years=year_labels_2, shades=shades_2, red=red_lines[1], red_span=(-1, 1), yfs=10,
         title=titles[1], tpos=(876, 395)),
    dict(rect=rect(67.3, 556, 438, 746), xlim=(2000.92, 2015.93), solid=p3_solid, dotted=p3_dotted,
         years=year_labels_3, shades=shades_3, red=red_lines[2], red_span=(-0.97, 1), yfs=10.2,
         title=titles[2], tpos=(217, 793)),
    dict(rect=rect(663.3, 1156, 438, 746), xlim=(2000.90, 2015.78), solid=p4_solid, dotted=p4_dotted,
         years=year_labels_4, shades=shades_4, red=red_lines[3], red_span=(-0.97, 0.99), yfs=13,
         title=titles[3], tpos=(882, 793)),
]

for p in panels:
    ax = fig.add_axes(p["rect"])
    ax.set_xlim(*p["xlim"])
    ax.set_ylim(-1, 1)
    for a, b in p["shades"]:
        ax.axvspan(a, b, color="#d9d9d9", lw=0, zorder=0)
    for yr in p["years"]:
        ax.annotate(str(yr), xy=(yr, 0), xytext=(0, -4), textcoords="offset points",
                    rotation=90, ha="center", va="top", fontsize=p["yfs"],
                    color="#7a7a7a", zorder=1, annotation_clip=False)
    ax.axhline(0, color="black", lw=1.5, zorder=2)
    s = pd.DataFrame(p["solid"], columns=["t", "v"])
    d = pd.DataFrame(p["dotted"], columns=["t", "v"])
    sns.lineplot(data=d, x="t", y="v", ax=ax, color="black", lw=2.0, linestyle=":", zorder=3)
    sns.lineplot(data=s, x="t", y="v", ax=ax, color="#1a1a1a", lw=1.9, zorder=4)
    lo, hi = p["red_span"]
    ax.axvline(p["red"], ymin=(lo + 1) / 2, ymax=(hi + 1) / 2, color="#ff0000", lw=2.3, zorder=5)
    ax.set_xticks([])
    ax.set_yticks([-1, -0.5, 0, 0.5, 1])
    ax.set_yticklabels(["-1", "-0.5", "0", "0.5", "1"])
    ax.tick_params(axis="y", length=0, pad=16.5, labelsize=15, labelcolor="#595959")
    ax.set_xlabel("")
    ax.set_ylabel("")
    for side in ["top", "right", "bottom"]:
        ax.spines[side].set_visible(False)
    ax.spines["left"].set_color("black")
    ax.spines["left"].set_linewidth(1.1)
    ax.spines["left"].set_zorder(6)
    ax.patch.set_alpha(0)
    fig.text(p["tpos"][0] / W, 1 - p["tpos"][1] / H, p["title"], ha="center", va="center",
             fontsize=14.5, family=["Liberation Serif", "DejaVu Serif"], color="black")

fig.savefig("out.png", dpi=100)
